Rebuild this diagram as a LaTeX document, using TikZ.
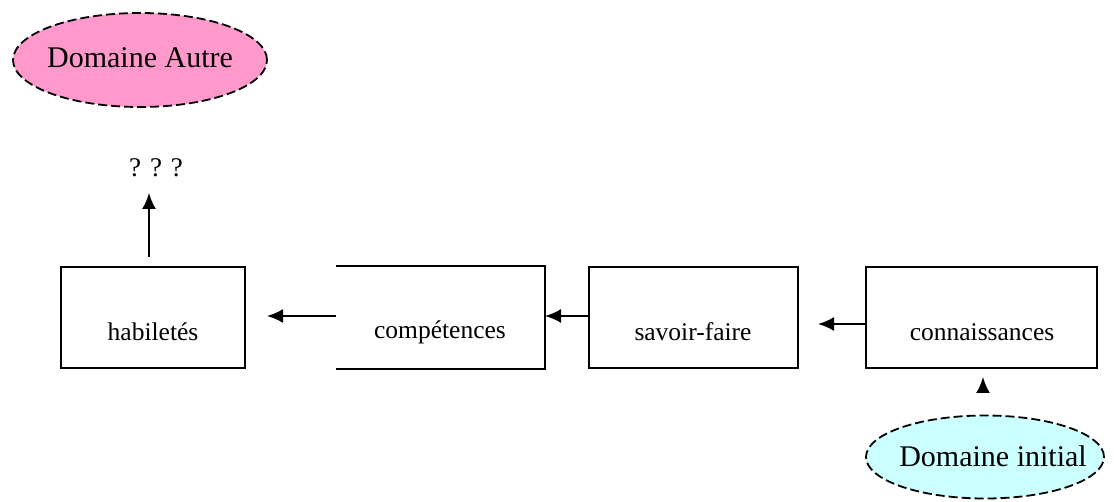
\documentclass[tikz,border=0pt]{standalone}
\usepackage{fontspec}
\setmainfont{Liberation Serif}
\usetikzlibrary{arrows.meta,shapes.geometric}
\definecolor{rosefill}{HTML}{FF99CC}
\definecolor{cyanfill}{HTML}{CCFFFF}
\begin{document}
\begin{tikzpicture}[x=1pt,y=-1pt,
  stepbox/.style={draw,line width=2pt,minimum height=101pt,inner sep=0pt},
  boxlabel/.style={font=\fontsize{25.5}{29}\selectfont,inner sep=0pt},
  domainoval/.style={ellipse,draw,line width=1.8pt,dash pattern=on 9pt off 4pt,
    inner sep=0pt},
  domainlabel/.style={font=\fontsize{30}{34}\selectfont,inner sep=0pt},
  link/.style={line width=2pt,-{Latex[length=16pt,width=14pt]}}]
\useasboundingbox (0,0) rectangle (1114,502);
% domains
\node[domainoval,fill=rosefill,minimum width=254pt,minimum height=94pt] (autre) at (140,60) {};
\node[domainlabel] (autretxt) at (140,58) {Domaine Autre};
\node[domainoval,fill=cyanfill,minimum width=238pt,minimum height=83pt] (initial) at (985,457) {};
\node[domainlabel] (initialtxt) at (993,456) {Domaine initial};
% chain of boxes
\node[stepbox,minimum width=184pt] (hab) at (153,318) {};
\node[boxlabel] (habtxt) at (153,332) {habiletés};
\node[stepbox,draw=none,minimum width=207pt] (comp) at (440.5,318) {};
\draw[line width=2pt] (comp.north west) -- (comp.north east) -- (comp.south east) -- (comp.south west);
\node[boxlabel] (comptxt) at (440,332) {compétences};
\node[stepbox,minimum width=209pt] (sf) at (693.5,318) {};
\node[boxlabel] (sftxt) at (693,332) {savoir-faire};
\node[stepbox,minimum width=231pt] (conn) at (981.5,318) {};
\node[boxlabel] (conntxt) at (982,332) {connaissances};
% unknown target
\node[font=\fontsize{27}{30}\selectfont,inner sep=0pt] (q) at (156,168) {?\,\,?\,\,?};
% connectors
\coordinate (habout) at (149,257);
\coordinate (qin) at (149,193);
\coordinate (compend) at (267,316);
\coordinate (sfend) at (818,324);
\draw[link] (habout) -- (qin);
\draw[link] (comp.west |- compend) -- (compend);
\draw[link] (sf.west |- compend) -- (comp.east |- compend);
\draw[link] (conn.west |- sfend) -- (sfend);
\coordinate (inittop) at (983,416);
\coordinate (connin) at (983,377);
\draw[link,shorten <=25pt] (inittop) -- (connin);
\end{tikzpicture}
\end{document}
